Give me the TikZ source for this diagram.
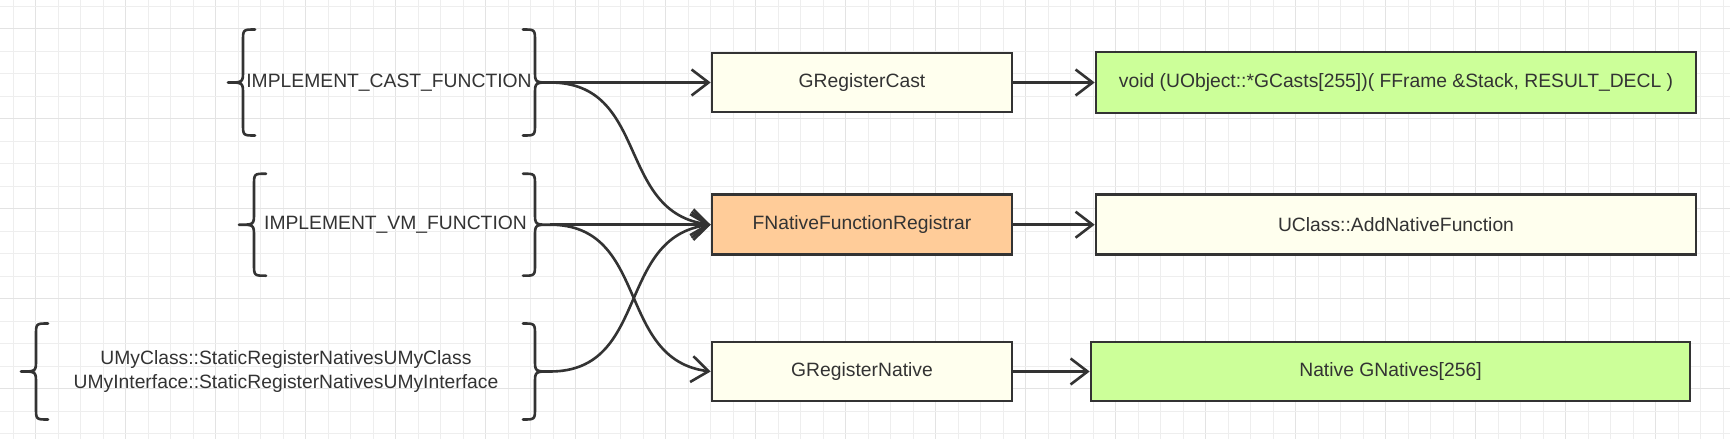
\documentclass[tikz,border=0pt]{standalone}
\usepackage{fontspec}
\setmainfont{Liberation Sans}
\usetikzlibrary{arrows.meta}
\definecolor{ink}{HTML}{333333}
\definecolor{paleyel}{HTML}{FFFFEE}
\definecolor{peach}{HTML}{FFCC99}
\definecolor{lime}{HTML}{CCFF99}
\definecolor{gridc}{HTML}{EEEEEE}
\definecolor{gridm}{HTML}{E3E3E3}
\tikzset{
  txt/.style={font=\fontsize{19.3}{23.2}\selectfont, text=ink},
  box/.style={txt, draw=ink, line width=2.6pt, minimum width=300pt, minimum height=59pt, inner sep=0pt},
  lbl/.style={txt, inner sep=0pt, align=center},
  conn/.style={draw=ink, line width=2.6pt, -{Straight Barb[length=17pt, width=26pt]}},
  bracestyle/.style={draw=ink, line width=2.6pt, line join=round, line cap=round},
  gridline/.style={draw=gridc, line width=1pt},
  gridmajor/.style={draw=gridm, line width=1pt}
}
% left brace: tip x, centre y, half height
\newcommand\myleftbrace[3]{%
  \draw[bracestyle] ({#1+27},{#2-#3}) .. controls ({#1+15},{#2-#3}) .. ({#1+15},{#2-#3+12})
    -- ({#1+15},{#2-12}) .. controls ({#1+15},{#2}) .. (#1,#2)
    .. controls ({#1+15},{#2}) .. ({#1+15},{#2+12})
    -- ({#1+15},{#2+#3-12}) .. controls ({#1+15},{#2+#3}) .. ({#1+27},{#2+#3});}
% right brace: tip x, centre y, half height
\newcommand\myrightbrace[3]{%
  \draw[bracestyle] ({#1-27},{#2-#3}) .. controls ({#1-15},{#2-#3}) .. ({#1-15},{#2-#3+12})
    -- ({#1-15},{#2-12}) .. controls ({#1-15},{#2}) .. (#1,#2)
    .. controls ({#1-15},{#2}) .. ({#1-15},{#2+12})
    -- ({#1-15},{#2+#3-12}) .. controls ({#1-15},{#2+#3}) .. ({#1-27},{#2+#3});}
\begin{document}
\begin{tikzpicture}[x=1pt,y=-1pt]
\useasboundingbox (0,0) rectangle (1730,439);
\fill[white] (0,0) rectangle (1730,439);
% grid
\foreach \i in {0,...,76} {
  \pgfmathsetmacro\gx{13.3+22.5*\i}
  \pgfmathtruncatemacro\gm{mod(\i,4)}
  \ifnum\gm=1 \draw[gridmajor] (\gx,0) -- (\gx,439); \else \draw[gridline] (\gx,0) -- (\gx,439); \fi
}
\foreach \j in {0,...,19} {
  \pgfmathsetmacro\gy{6+22.5*\j}
  \pgfmathtruncatemacro\gm{mod(\j,4)}
  \ifnum\gm=1 \draw[gridmajor] (0,\gy) -- (1730,\gy); \else \draw[gridline] (0,\gy) -- (1730,\gy); \fi
}

% braces and their texts
\myleftbrace{228}{82.5}{53}
\myrightbrace{550}{82.5}{53}
\node[lbl] (t1) at (389,82.5) {IMPLEMENT\_CAST\_FUNCTION};

\myleftbrace{239}{224.7}{51}
\myrightbrace{550}{224.7}{51}
\node[lbl] (t2) at (395.5,224.7) {IMPLEMENT\_VM\_FUNCTION};

\myleftbrace{21}{371.5}{48}
\myrightbrace{550}{371.5}{48}
\node[lbl] (t3) at (286,371.5) {UMyClass::StaticRegisterNativesUMyClass\\UMyInterface::StaticRegisterNativesUMyInterface};

\coordinate (r1) at (550,82.5);
\coordinate (r2) at (550,224.7);
\coordinate (r3) at (550,371.5);

% middle boxes
\node[box, fill=paleyel] (gc) at (862,82.5) {GRegisterCast};
\node[box, fill=peach, minimum height=60pt] (fn) at (862,224.7) {FNativeFunctionRegistrar};
\node[box, fill=paleyel] (gn) at (862,371.5) {GRegisterNative};

% right boxes
\node[box, fill=lime, minimum width=600pt, minimum height=61pt] (gcasts) at (1396,82.5) {void (UObject::*GCasts[255])( FFrame \&Stack, RESULT\_DECL )};
\node[box, fill=paleyel, minimum width=600pt, minimum height=60pt] (add) at (1396,224.7) {UClass::AddNativeFunction};
\node[box, fill=lime, minimum width=599pt] (gnat) at (1390.5,371.5) {Native GNatives[256]};

% connectors
\draw[conn] (r1) -- (gc.west);
\draw[conn] (r1) .. controls +(100,0) and +(-95,-12) .. (fn.west);
\draw[conn] (r2) -- (fn.west);
\draw[conn] (r2) .. controls +(100,0) and +(-95,-12) .. (gn.west);
\draw[conn] (r3) .. controls +(100,0) and +(-95,12) .. (fn.west);

\draw[conn] (gc.east) -- (gcasts.west);
\draw[conn] (fn.east) -- (add.west);
\draw[conn] (gn.east) -- (gnat.west);
\end{tikzpicture}
\end{document}
